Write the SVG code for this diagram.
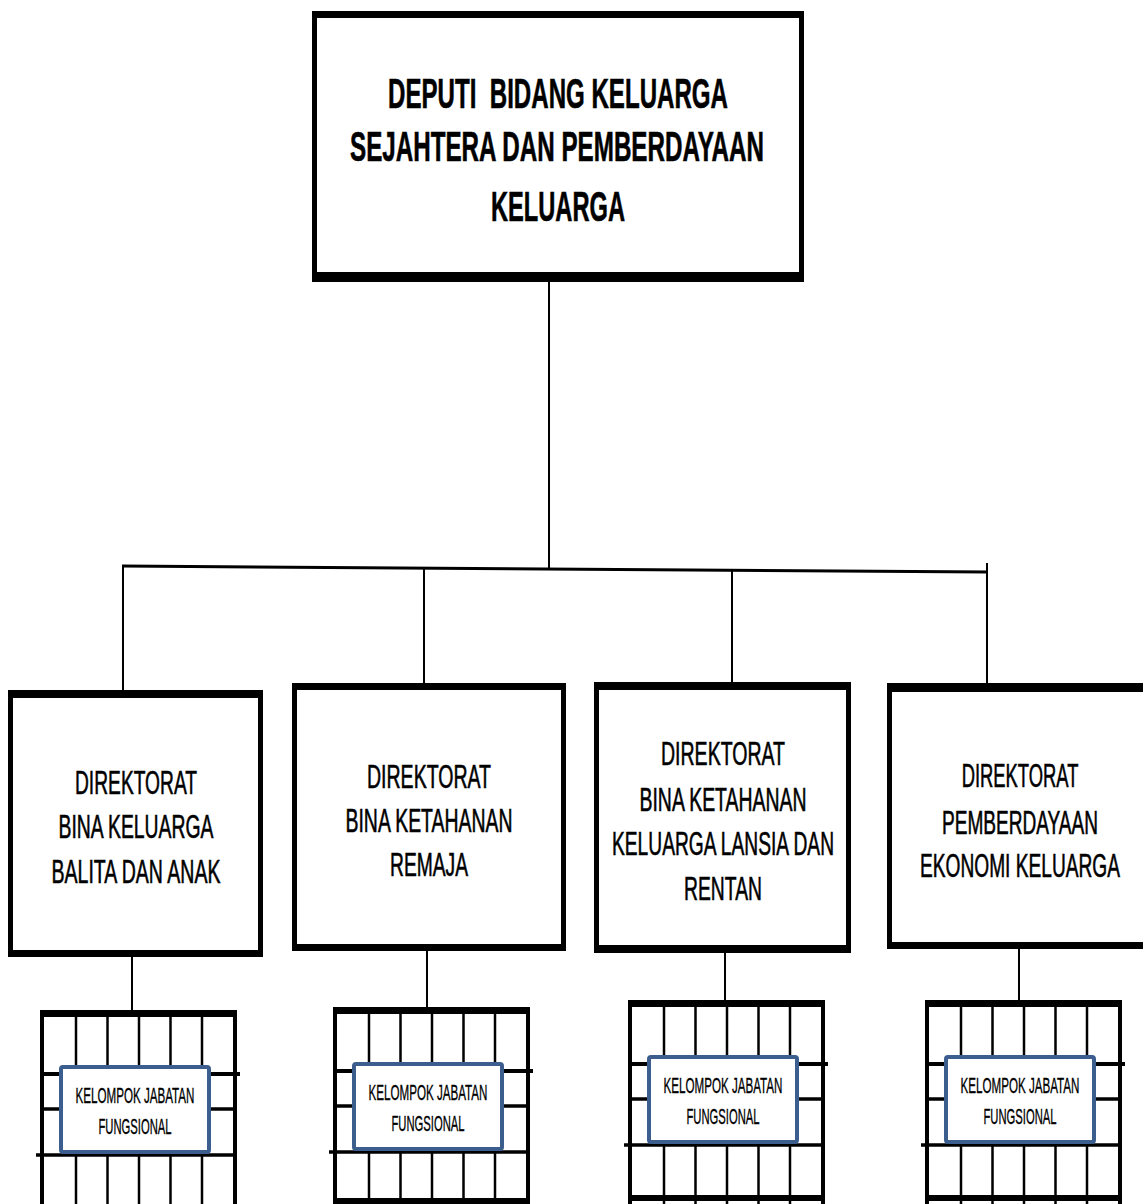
<svg xmlns="http://www.w3.org/2000/svg" width="1143" height="1204" viewBox="0 0 1143 1204">
<style>
.t{font-family:"Liberation Sans",Arial,sans-serif;fill:#000;text-anchor:middle;white-space:pre}
.top{font-size:42px;font-weight:bold;stroke:#000;stroke-width:0.6}
.dir{font-size:33px;stroke:#000;stroke-width:0.6}
.kj{font-size:22px;stroke:#000;stroke-width:0.35}
.c{stroke:#000;fill:none}
.frame{fill:#000}
.inner{fill:#fff}
.gl{stroke:#000;fill:none}
.blue{fill:#fff;stroke:#3b5e8e;stroke-width:4}
</style>
<defs>
<g id="grid">
<rect x="0" y="0" width="197" height="7" fill="#000"/>
<line class="gl" x1="2" y1="0" x2="2" y2="215" stroke-width="4"/>
<line class="gl" x1="195" y1="0" x2="195" y2="215" stroke-width="4"/>
<line class="gl" x1="36" y1="0" x2="36" y2="215" stroke-width="2.5"/>
<line class="gl" x1="67.5" y1="0" x2="67.5" y2="215" stroke-width="2.5"/>
<line class="gl" x1="99" y1="0" x2="99" y2="215" stroke-width="2.5"/>
<line class="gl" x1="130.5" y1="0" x2="130.5" y2="215" stroke-width="2.5"/>
<line class="gl" x1="162" y1="0" x2="162" y2="215" stroke-width="2.5"/>
<line class="gl" x1="0" y1="64" x2="200" y2="64" stroke-width="4"/>
<line class="gl" x1="0" y1="99" x2="196" y2="99" stroke-width="3.5"/>
<line class="gl" x1="-4" y1="145" x2="193" y2="145" stroke-width="3.5"/>
<rect class="blue" x="21" y="57" width="148" height="85" rx="2"/>
<text class="t kj" x="95" y="93" textLength="119" lengthAdjust="spacingAndGlyphs">KELOMPOK JABATAN</text>
<text class="t kj" x="95" y="124" textLength="73" lengthAdjust="spacingAndGlyphs">FUNGSIONAL</text>
</g>
</defs>

<g id="connectors">
<line class="c" x1="549" y1="280" x2="549" y2="568" stroke-width="2"/>
<line class="c" x1="122" y1="566" x2="988" y2="572" stroke-width="3"/>
<line class="c" x1="123" y1="566" x2="123" y2="692" stroke-width="2"/>
<line class="c" x1="424" y1="568" x2="424" y2="686" stroke-width="2"/>
<line class="c" x1="732" y1="570" x2="732" y2="692" stroke-width="2"/>
<line class="c" x1="987" y1="563" x2="987" y2="686" stroke-width="2"/>
<line class="c" x1="132" y1="955" x2="132" y2="1011" stroke-width="2"/>
<line class="c" x1="427" y1="949" x2="427" y2="1008" stroke-width="2"/>
<line class="c" x1="725" y1="951" x2="725" y2="1001" stroke-width="2"/>
<line class="c" x1="1019" y1="947" x2="1019" y2="1001" stroke-width="2"/>
</g>

<g id="deputi">
<rect class="frame" x="312" y="11" width="492" height="271"/>
<rect class="inner" x="317" y="18" width="482" height="254"/>
<text class="t top" x="558" y="108" textLength="340" lengthAdjust="spacingAndGlyphs">DEPUTI  BIDANG KELUARGA</text>
<text class="t top" x="557" y="161" textLength="414" lengthAdjust="spacingAndGlyphs">SEJAHTERA DAN PEMBERDAYAAN</text>
<text class="t top" x="558" y="221" textLength="134" lengthAdjust="spacingAndGlyphs">KELUARGA</text>
</g>

<g id="dir-balita">
<rect class="frame" x="8" y="690" width="255" height="267"/>
<rect class="inner" x="13" y="698" width="245" height="252"/>
<text class="t dir" x="136" y="794" textLength="122" lengthAdjust="spacingAndGlyphs">DIREKTORAT</text>
<text class="t dir" x="136" y="838" textLength="155" lengthAdjust="spacingAndGlyphs">BINA KELUARGA</text>
<text class="t dir" x="136" y="883" textLength="169" lengthAdjust="spacingAndGlyphs">BALITA DAN ANAK</text>
</g>

<g id="dir-remaja">
<rect class="frame" x="292" y="683" width="274" height="268"/>
<rect class="inner" x="297" y="690" width="264" height="254"/>
<text class="t dir" x="429" y="788" textLength="124" lengthAdjust="spacingAndGlyphs">DIREKTORAT</text>
<text class="t dir" x="429" y="832" textLength="167" lengthAdjust="spacingAndGlyphs">BINA KETAHANAN</text>
<text class="t dir" x="429" y="876" textLength="78" lengthAdjust="spacingAndGlyphs">REMAJA</text>
</g>

<g id="dir-lansia">
<rect class="frame" x="594" y="682" width="257" height="271"/>
<rect class="inner" x="599" y="690" width="247" height="255"/>
<text class="t dir" x="723" y="765" textLength="124" lengthAdjust="spacingAndGlyphs">DIREKTORAT</text>
<text class="t dir" x="723" y="811" textLength="167" lengthAdjust="spacingAndGlyphs">BINA KETAHANAN</text>
<text class="t dir" x="723" y="855" textLength="222" lengthAdjust="spacingAndGlyphs">KELUARGA LANSIA DAN</text>
<text class="t dir" x="723" y="900" textLength="78" lengthAdjust="spacingAndGlyphs">RENTAN</text>
</g>

<g id="dir-ekonomi">
<rect class="frame" x="887" y="683" width="270" height="266"/>
<rect class="inner" x="892" y="692" width="260" height="250"/>
<text class="t dir" transform="translate(1020 787) scale(0.557 1)" x="0" y="0">DIREKTORAT</text>
<text class="t dir" transform="translate(1020 834) scale(0.578 1)" x="0" y="0">PEMBERDAYAAN</text>
<text class="t dir" transform="translate(1020 877) scale(0.58 1)" x="0" y="0">EKONOMI KELUARGA</text>
</g>

<g id="jf-balita"><use href="#grid" x="40" y="1010"/></g>
<g id="jf-remaja">
<use href="#grid" x="333" y="1007"/>
<rect x="333" y="1198" width="197" height="6" fill="#000"/>
</g>
<g id="jf-lansia">
<use href="#grid" x="628" y="1000"/>
<rect x="628" y="1195" width="197" height="6" fill="#000"/>
</g>
<g id="jf-ekonomi">
<use href="#grid" x="925" y="1000"/>
<rect x="925" y="1195" width="197" height="6" fill="#000"/>
</g>
</svg>
